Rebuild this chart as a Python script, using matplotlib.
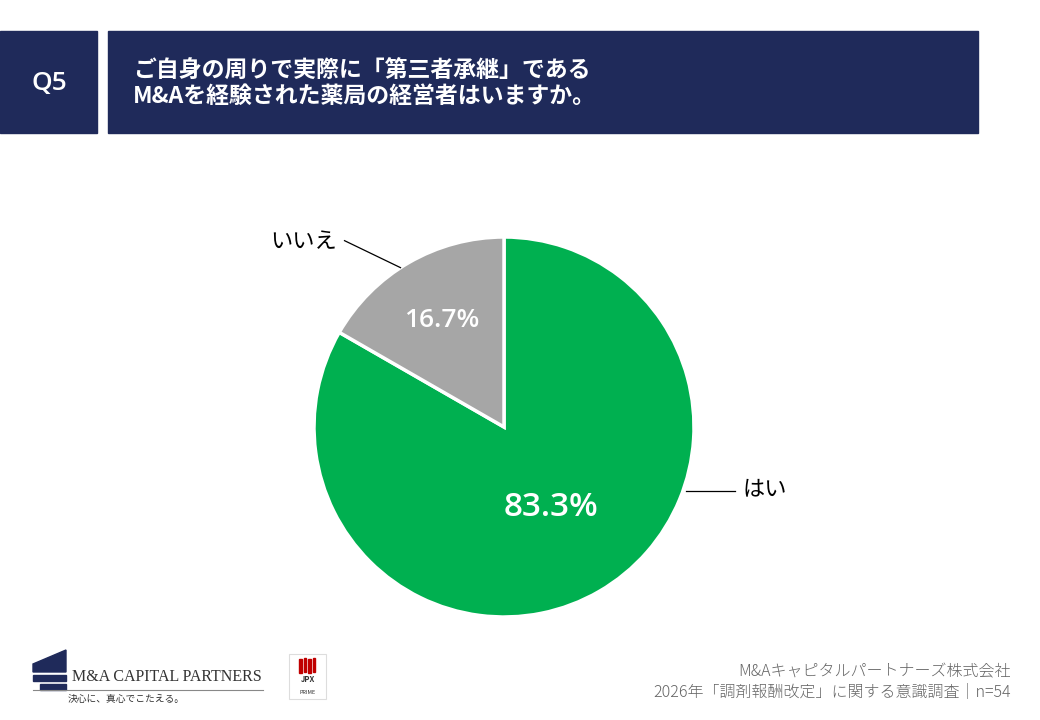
import numpy as np
import matplotlib.pyplot as plt
from matplotlib.patches import Rectangle, Polygon

plt.rcParams['font.family'] = ['Noto Sans CJK JP', 'DejaVu Sans']

# data
labels = ['はい', 'いいえ']
values = [83.3, 16.7]
colors = ['#00B050', '#A6A6A6']
question = 'Q5'
title = 'ご自身の周りで実際に「第三者承継」である\nM&Aを経験された薬局の経営者はいますか。'
source = 'M&Aキャピタルパートナーズ株式会社\n2026年「調剤報酬改定」に関する意識調査｜n=54'

navy = '#1F2A5A'
W, H = 1040, 720
latin = ['Open Sans', 'DejaVu Sans']

fig = plt.figure(figsize=(10.4, 7.2), dpi=100)
ax = fig.add_axes([0, 0, 1, 1])
ax.set_xlim(0, W)
ax.set_ylim(0, H)
ax.axis('off')

# header boxes
ax.add_patch(Rectangle((0, H - 133), 97, 102, color=navy))
ax.add_patch(Rectangle((108, H - 133), 870, 102, color=navy))
ax.text(49, H - 84, question, color='white', fontsize=19, family=latin,
        fontweight='semibold', ha='center', va='center')
ax.text(133, H - 84, title, color='white', fontsize=16.5, fontweight='bold',
        ha='left', va='center', linespacing=1.15)

# pie
cx, cy, r = 504, H - 427, 190
wedges, _ = ax.pie(values, colors=colors, startangle=90, counterclock=False,
                   center=(cx, cy), radius=r,
                   wedgeprops=dict(edgecolor='white', linewidth=2.5))
ax.set_xlim(0, W)
ax.set_ylim(0, H)
ax.set_aspect('equal')

pct_dist = [0.49, 0.65]
pct_size = [24, 19]
for w, v, d, s in zip(wedges, values, pct_dist, pct_size):
    mid = np.deg2rad((w.theta1 + w.theta2) / 2)
    ax.text(cx + d * r * np.cos(mid), cy + d * r * np.sin(mid), f'{v:.1f}%',
            color='white', fontsize=s, fontweight='semibold', family=latin,
            ha='center', va='center')

# leader lines and category labels
# はい : horizontal leader from the right edge
ang = np.deg2rad(-19.7)
x0, y0 = cx + r * np.cos(ang), cy + r * np.sin(ang)
ax.plot([x0 + 3, x0 + 52], [y0, y0], color='black', lw=0.9)
ax.text(x0 + 60, y0 + 2, labels[0], fontsize=16, ha='left', va='center')

# いいえ : diagonal leader from the wedge edge
ang = np.deg2rad(123)
x0, y0 = cx + r * np.cos(ang), cy + r * np.sin(ang)
ax.plot([x0, x0 - 56], [y0, y0 + 27], color='black', lw=0.9)
ax.text(x0 - 64, y0 + 26, labels[1], fontsize=16, ha='right', va='center')

# company logo (approximation)
ax.add_patch(Polygon([(33, H - 672), (66, H - 672), (66, H - 650), (33, H - 664)],
                     closed=True, color=navy))
ax.add_patch(Rectangle((33, H - 681), 33, 6, color=navy))
ax.add_patch(Rectangle((40, H - 690), 26, 6, color=navy))
ax.text(72, H - 677, 'M&A CAPITAL PARTNERS', family=['Liberation Serif', 'DejaVu Serif'],
        fontsize=11.5, color='#333333', ha='left', va='center')
ax.plot([33, 263], [H - 690, H - 690], color='#888888', lw=0.8)
ax.text(126, H - 699, '決心に、真心でこたえる。', fontsize=7, color='#333333',
        ha='center', va='center')

# JPX PRIME mark
ax.add_patch(Rectangle((289, H - 699), 37, 45, facecolor='white',
                       edgecolor='#dddddd', lw=0.8))
for i in range(4):
    ax.add_patch(Rectangle((299 + i * 4.5, H - 673 + (i % 2) * 1), 2.6, 14,
                           color='#C00000'))
ax.text(307.5, H - 680, 'JPX', fontsize=5.5, fontweight='bold', ha='center',
        va='center', color='#333333')
ax.text(307.5, H - 692, 'PRIME', fontsize=4, ha='center', va='center',
        color='#333333')

# source note
ax.text(1011, H - 682, source, fontsize=11.5, color='#666666', ha='right',
        va='center', linespacing=1.2, fontweight='light')

fig.savefig('out.png', dpi=100)
